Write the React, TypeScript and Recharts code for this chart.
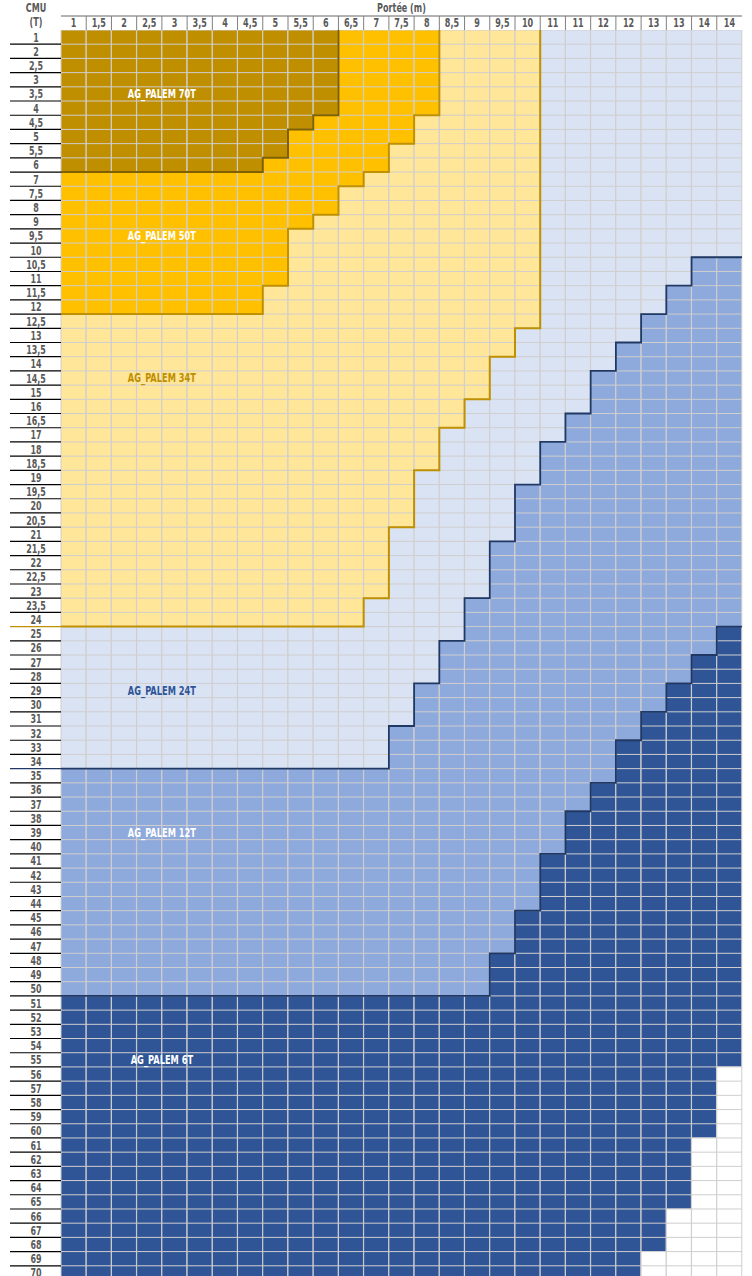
import React from 'react';
import { ComposedChart, Bar, Line, XAxis, YAxis, ReferenceDot } from 'recharts';

// ---------- data ----------
const spanLabels = ['1', '1,5', '2', '2,5', '3', '3,5', '4', '4,5', '5', '5,5', '6', '6,5', '7', '7,5', '8', '8,5', '9', '9,5', '10', '11', '11', '12', '12', '13', '13', '14', '14'];

const cmuLabels = [
  '1', '2', '2,5', '3', '3,5', '4', '4,5', '5', '5,5', '6', '7', '7,5', '8', '9', '9,5', '10', '10,5', '11', '11,5', '12',
  '12,5', '13', '13,5', '14', '14,5', '15', '16', '16,5', '17', '18', '18,5', '19', '19,5', '20', '20,5', '21', '21,5', '22', '22,5', '23',
  '23,5', '24', '25', '26', '27', '28', '29', '30', '31', '32', '33', '34', '35', '36', '37', '38', '39', '40', '41', '42',
  '43', '44', '45', '46', '47', '48', '49', '50', '51', '52', '53', '54', '55', '56', '57', '58', '59', '60', '61', '62',
  '63', '64', '65', '66', '67', '68', '69', '70',
];

// number of CMU rows (from the top) covered by each model up to and including it, per span column
const end70 = [10, 10, 10, 10, 10, 10, 10, 10, 9, 7, 6, 0, 0, 0, 0, 0, 0, 0, 0, 0, 0, 0, 0, 0, 0, 0, 0];
const end50 = [20, 20, 20, 20, 20, 20, 20, 20, 18, 14, 13, 11, 10, 8, 6, 0, 0, 0, 0, 0, 0, 0, 0, 0, 0, 0, 0];
const end34 = [42, 42, 42, 42, 42, 42, 42, 42, 42, 42, 42, 42, 40, 35, 31, 28, 26, 23, 21, 0, 0, 0, 0, 0, 0, 0, 0];
const end24 = [52, 52, 52, 52, 52, 52, 52, 52, 52, 52, 52, 52, 52, 49, 46, 43, 40, 36, 32, 29, 27, 24, 22, 20, 18, 16, 16];
const end12 = [68, 68, 68, 68, 68, 68, 68, 68, 68, 68, 68, 68, 68, 68, 68, 68, 68, 65, 62, 58, 55, 53, 50, 48, 46, 44, 42];
const end6 = [88, 88, 88, 88, 88, 88, 88, 88, 88, 88, 88, 88, 88, 88, 88, 88, 88, 88, 88, 88, 88, 88, 88, 86, 83, 78, 73];

const zoneNames = ['AG_PALEM 70T', 'AG_PALEM 50T', 'AG_PALEM 34T', 'AG_PALEM 24T', 'AG_PALEM 12T', 'AG_PALEM 6T'];
const zoneLabelRow = ['3,5', '9,5', '14,5', '29', '39', '55'];

// ---------- styles / layout ----------
const W = 752;
const H = 1290;
const M = { top: 16, right: 10, bottom: 10, left: 10 };
const YW = 51;
const XH = 14;
const PLOT_W = W - M.left - M.right - YW;
const PLOT_H = H - M.top - M.bottom - XH;
const NROWS = cmuLabels.length;
const NCOLS = spanLabels.length;
const COL_W = PLOT_W / NCOLS;
const ROW_H = PLOT_H / NROWS;
const PLOT_TOP = M.top + XH;
const FONT = "'DejaVu Sans Condensed', 'Liberation Sans Narrow', 'Arial Narrow', sans-serif";
const TXT = '#595959';
const GRID = '#D0CECE';

const zoneKeys = ['z70', 'z50', 'z34', 'z24', 'z12', 'z6', 'zn'];
const zoneFills = ['#BF8F00', '#FFC000', '#FFE699', '#DAE3F3', '#8EA9DB', '#2F5597', '#FFFFFF'];
const labelColors = ['#FFFFFF', '#FFFFFF', '#BF8F00', '#2F5597', '#FFFFFF', '#FFFFFF'];

// ---------- derived tables ----------
const cum = spanLabels.map((_, i) => {
  const a = end70[i];
  const b = Math.max(a, end50[i]);
  const c = Math.max(b, end34[i]);
  const d = Math.max(c, end24[i]);
  const e = Math.max(d, end12[i]);
  const f = Math.max(e, end6[i]);
  return [a, b, c, d, e, f];
});

const data = spanLabels.map((_, i) => {
  const [a, b, c, d, e, f] = cum[i];
  return { col: i, z70: a, z50: b - a, z34: c - b, z24: d - c, z12: e - d, z6: f - e, zn: NROWS - f };
});

const stepPoints = (ends: number[]) => {
  const pts: { x: number; y: number }[] = [];
  for (let c = 0; c < ends.length; c++) {
    if (ends[c] > 0) pts.push({ x: c, y: ends[c] });
    else {
      pts.push({ x: c, y: 0 });
      return pts;
    }
  }
  pts.push({ x: ends.length, y: ends[ends.length - 1] });
  return pts;
};

const boundaries = [
  { pts: stepPoints(end70), color: '#7F6000', w: 2 },
  { pts: stepPoints(end50), color: '#BF9000', w: 2 },
  { pts: stepPoints(end34), color: '#BF9000', w: 2 },
  { pts: stepPoints(end24), color: '#1F3864', w: 1.8 },
  { pts: stepPoints(end12), color: '#1F3864', w: 1.8 },
];

// ---------- renderers ----------
const NarrowText = ({ x, y, size, sx, fill, children }: any) => (
  <text transform={`translate(${x} ${y}) scale(${sx} 1)`} x={0} y={0} textAnchor="middle" fontFamily={FONT}
    fontWeight="bold" fontSize={size} fill={fill}>
    {children}
  </text>
);

const makeCellShape = (key: string) => (props: any) => {
  const { x, y, width, height, payload, fill } = props;
  const n = payload ? payload[key] : 0;
  if (!n || !height) return <g />;
  const top = Math.min(y, y + height);
  const h = Math.abs(height);
  const rh = h / n;
  const lines = [];
  for (let k = 0; k <= n; k++) {
    const yy = top + k * rh;
    lines.push(<line key={'h' + k} x1={x} x2={x + width} y1={yy} y2={yy} stroke={GRID} strokeWidth={1} />);
  }
  return (
    <g>
      <rect x={x} y={top} width={width} height={h} fill={fill} />
      {lines}
      <line x1={x} x2={x} y1={top} y2={top + h} stroke={GRID} strokeWidth={1} />
      <line x1={x + width} x2={x + width} y1={top} y2={top + h} stroke={GRID} strokeWidth={1} />
    </g>
  );
};

const SpanTick = (props: any) => {
  const { x, payload } = props;
  const i = Number(payload.value);
  const y0 = M.top;
  return (
    <g>
      <line x1={x - COL_W / 2} x2={x + COL_W / 2} y1={y0} y2={y0} stroke="#7F7F7F" strokeWidth={1.2} />
      {i > 0 && <line x1={x - COL_W / 2} x2={x - COL_W / 2} y1={y0} y2={PLOT_TOP} stroke="#7F7F7F" strokeWidth={1} />}
      <NarrowText x={x} y={PLOT_TOP - 3} size={11.5} sx={0.78} fill={TXT}>{spanLabels[i]}</NarrowText>
    </g>
  );
};

const CmuTick = (props: any) => {
  const { y, payload } = props;
  const i = Math.floor(Number(payload.value));
  const bottom = y + ROW_H / 2;
  let lc = '#000000';
  if (i + 1 === cum[0][2]) lc = '#BF9000';
  else if (i + 1 === cum[0][3]) lc = '#1F3864';
  return (
    <g>
      <NarrowText x={M.left + YW / 2 + 0.5} y={y + 4.5} size={12} sx={0.74} fill={TXT}>{cmuLabels[i]}</NarrowText>
      <line x1={M.left} x2={M.left + YW} y1={bottom} y2={bottom} stroke={lc} strokeWidth={1.2} />
    </g>
  );
};

const zoneLabelContent = (text: string, color: string) => (props: any) => {
  const vb = props.viewBox || {};
  const cx = (vb.x || 0) + (vb.width || 0) / 2;
  const cy = (vb.y || 0) + (vb.height || 0) / 2;
  return (
    <text x={cx} y={cy + 4.2} textAnchor="middle" fontFamily={FONT} fontWeight="bold" fontSize={12.5} fill={color}
      textLength={text.length * 5.67} lengthAdjust="spacingAndGlyphs">
      {text}
    </text>
  );
};

export default function App() {
  return (
    <div style={{ position: 'absolute', left: 0, top: 0, width: W, height: H, background: '#fff' }}>
      <ComposedChart width={W} height={H} data={data} margin={M} barCategoryGap={0} barGap={0}>
        <XAxis xAxisId={0} dataKey="col" type="category" orientation="top" height={XH} interval={0}
          axisLine={false} tickLine={false} tick={<SpanTick />} />
        <XAxis xAxisId="n" dataKey="x" type="number" domain={[0, NCOLS]} hide allowDataOverflow orientation="top" />
        <YAxis type="number" domain={[0, NROWS]} reversed width={YW} allowDataOverflow interval={0}
          ticks={cmuLabels.map((_, i) => i + 0.5)} axisLine={false} tickLine={false} tick={<CmuTick />} />
        {zoneKeys.map((k, zi) => (
          <Bar key={k} dataKey={k} stackId="s" xAxisId={0} fill={zoneFills[zi]} isAnimationActive={false}
            shape={makeCellShape(k)} />
        ))}
        {boundaries.map((b, bi) => (
          <Line key={'b' + bi} xAxisId="n" data={b.pts} dataKey="y" type="stepAfter" stroke={b.color}
            strokeWidth={b.w} dot={false} activeDot={false} isAnimationActive={false} />
        ))}
        {zoneNames.map((z, zi) => (
          <ReferenceDot key={z} xAxisId="n" x={4} y={cmuLabels.indexOf(zoneLabelRow[zi]) + 0.5} r={0}
            fill="none" stroke="none" label={zoneLabelContent(z, labelColors[zi])} />
        ))}
        <NarrowText x={M.left + YW / 2 + 0.5} y={12} size={11.5} sx={0.78} fill={TXT}>CMU</NarrowText>
        <NarrowText x={M.left + YW / 2 + 0.5} y={26} size={11.5} sx={0.78} fill={TXT}>(T)</NarrowText>
        <NarrowText x={M.left + YW + PLOT_W / 2} y={12} size={11.5} sx={0.78} fill={TXT}>Portée (m)</NarrowText>
      </ComposedChart>
    </div>
  );
}
